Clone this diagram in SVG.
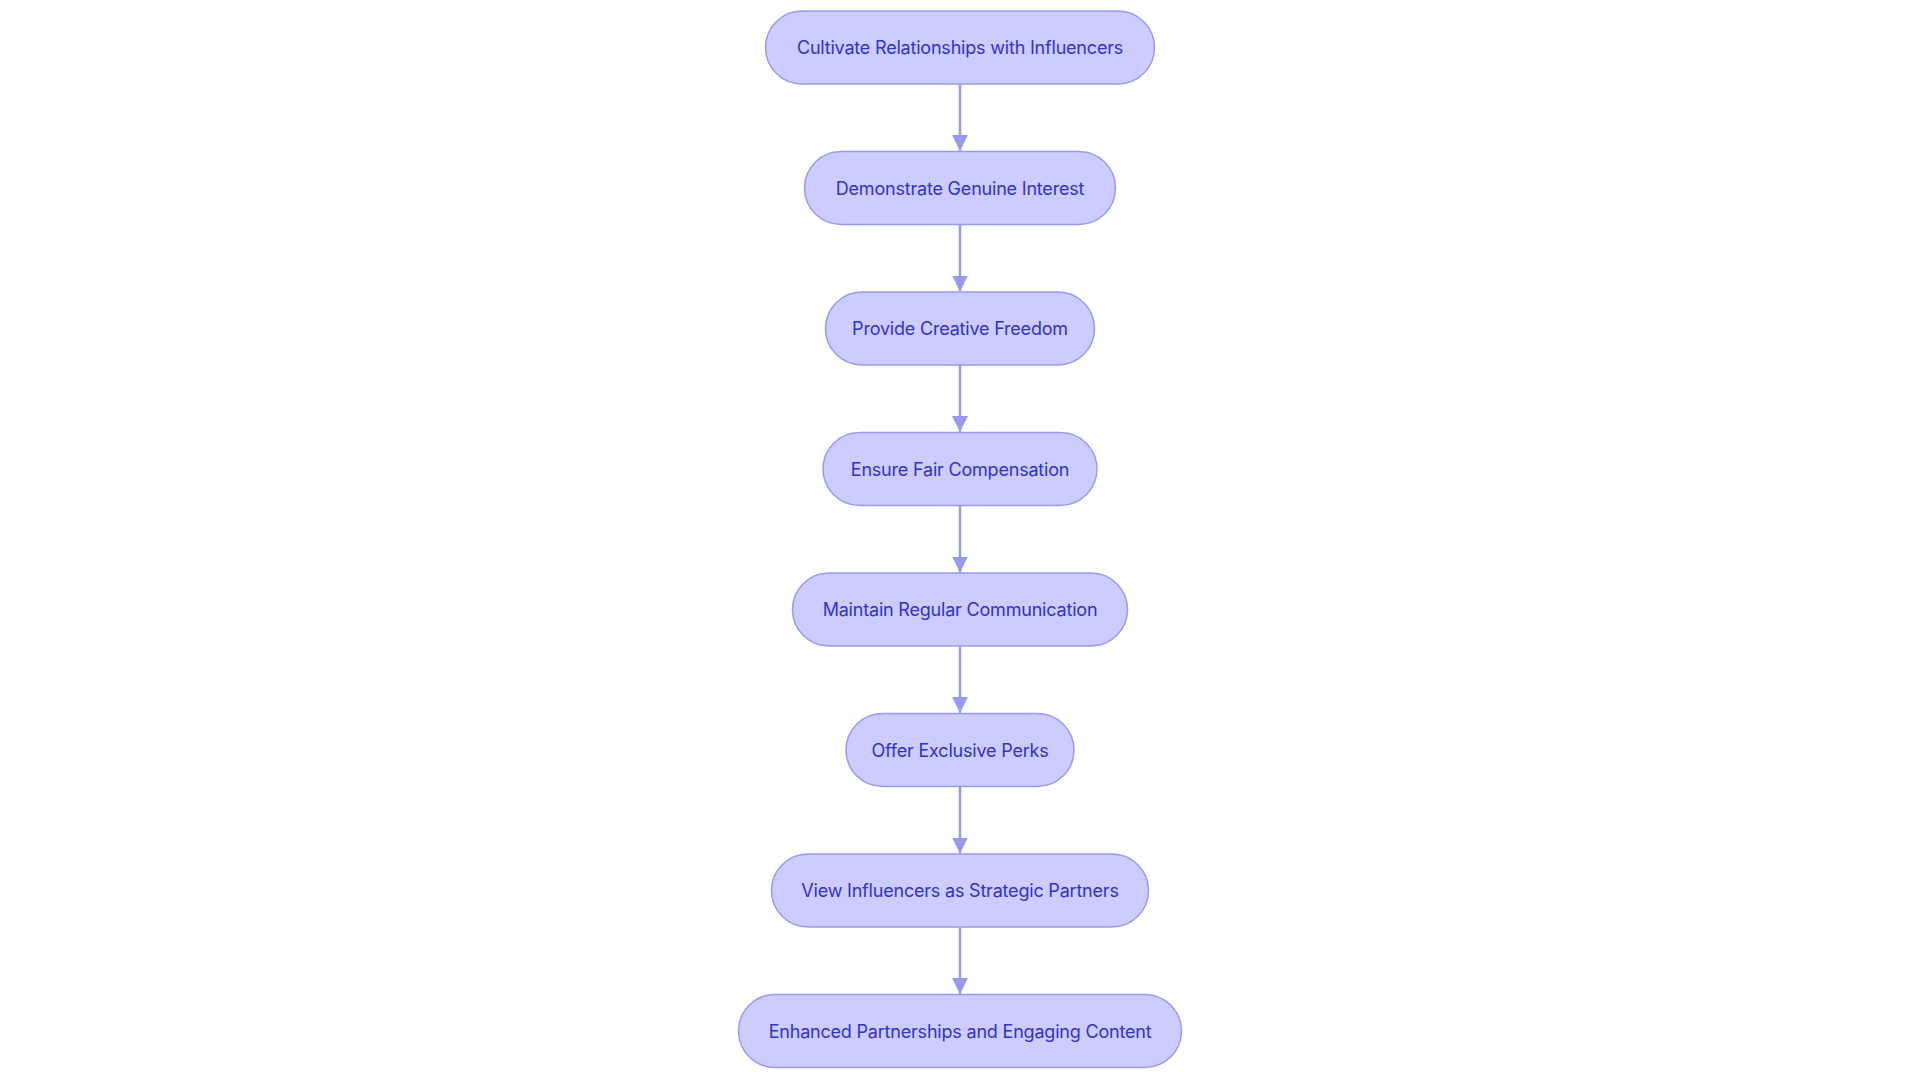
<svg xmlns="http://www.w3.org/2000/svg" width="1920" height="1083" viewBox="0 0 1920 1083">
<style>
.n rect{fill:#ccccff;stroke:#9999ee;stroke-width:1.5}
.n text{font-family:Inter,"Noto Sans",sans-serif;font-size:18px;fill:#3232c8;text-anchor:middle;dominant-baseline:central;letter-spacing:-0.2px}
.e line{stroke:#9999ee;stroke-width:2.5}
</style>
<defs><marker id="a" markerWidth="16" markerHeight="16" refX="16" refY="8" orient="auto" markerUnits="userSpaceOnUse" viewBox="0 0 16 16"><path d="M0,0L16,8L0,16z" fill="#9999ee"/></marker></defs>
<rect width="1920" height="1083" fill="#fff"/>
<g class="e">
<line x1="960" y1="84" x2="960" y2="151" marker-end="url(#a)"/>
<line x1="960" y1="224.5" x2="960" y2="291.5" marker-end="url(#a)"/>
<line x1="960" y1="365" x2="960" y2="432" marker-end="url(#a)"/>
<line x1="960" y1="505.5" x2="960" y2="572.5" marker-end="url(#a)"/>
<line x1="960" y1="646" x2="960" y2="713" marker-end="url(#a)"/>
<line x1="960" y1="786.5" x2="960" y2="853.5" marker-end="url(#a)"/>
<line x1="960" y1="927" x2="960" y2="994" marker-end="url(#a)"/>
</g>
<g id="n1" class="n"><rect x="765.5" y="11" width="389" height="73" rx="36.5"/><text x="960" y="47.5">Cultivate Relationships with Influencers</text></g>
<g id="n2" class="n"><rect x="804.5" y="151.5" width="311" height="73" rx="36.5"/><text x="960" y="188">Demonstrate Genuine Interest</text></g>
<g id="n3" class="n"><rect x="825.5" y="292" width="269" height="73" rx="36.5"/><text x="960" y="328.5">Provide Creative Freedom</text></g>
<g id="n4" class="n"><rect x="823" y="432.5" width="274" height="73" rx="36.5"/><text x="960" y="469">Ensure Fair Compensation</text></g>
<g id="n5" class="n"><rect x="792.5" y="573" width="335" height="73" rx="36.5"/><text x="960" y="609.5">Maintain Regular Communication</text></g>
<g id="n6" class="n"><rect x="846" y="713.5" width="228" height="73" rx="36.5"/><text x="960" y="750">Offer Exclusive Perks</text></g>
<g id="n7" class="n"><rect x="771.5" y="854" width="377" height="73" rx="36.5"/><text x="960" y="890.5">View Influencers as Strategic Partners</text></g>
<g id="n8" class="n"><rect x="738.5" y="994.5" width="443" height="73" rx="36.5"/><text x="960" y="1031">Enhanced Partnerships and Engaging Content</text></g>
</svg>
